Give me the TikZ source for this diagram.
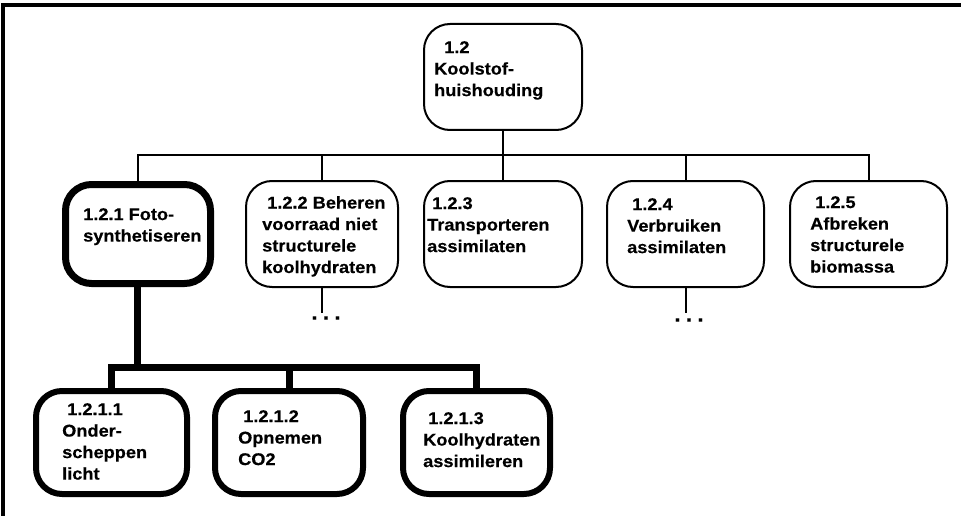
\documentclass[tikz,border=0pt]{standalone}
\usepackage{fontspec}
\setmainfont{Liberation Sans}
\newfontfamily\labelface{Liberation Sans Bold}[FakeStretch=1.07, FakeBold=0.4]
\newcommand{\boxfont}{\fontsize{17}{21.5}\labelface}
\newcommand{\ind}{\hspace*{5pt}}
\begin{document}
\begin{tikzpicture}[x=1pt,y=-1pt,
  box/.style={draw, line width=2pt, rounded corners=26pt, inner sep=0pt},
  heavybox/.style={box, line width=7pt},
  lvlthree/.style={box, line width=6pt},
  lbl/.style={anchor=north west, inner sep=0pt, align=left, font=\boxfont},
  link/.style={line width=2pt},
  heavylink/.style={line width=7pt},
  more/.style={inner sep=0pt, font=\fontsize{22}{22}\labelface}
]
\useasboundingbox (0,0) rectangle (961,516);

% page frame (top and left edges)
\draw[line width=3.5pt] (3,516) -- (3,5) -- (961,5);

% root
\node[box, minimum width=158pt, minimum height=106pt] (top) at (503,77) {};
\node[lbl] (ttop) at (434,41) {\hspace*{10pt}1.2\\Koolstof-\\huishouding};

% second level
\node[heavybox, minimum width=145pt, minimum height=99pt] (b121) at (138,234) {};
\node[box, minimum width=152pt, minimum height=106pt] (b122) at (322,234) {};
\node[box, minimum width=158pt, minimum height=106pt] (b123) at (503,234) {};
\node[box, minimum width=157pt, minimum height=106pt] (b124) at (685.5,234) {};
\node[box, minimum width=157pt, minimum height=106pt] (b125) at (868.5,234) {};

\node[lbl] (t121) at (83,208) {1.2.1 Foto-\\synthetiseren};
\node[lbl] (t122) at (262,196) {\ind1.2.2 Beheren\\voorraad niet\\structurele\\koolhydraten};
\node[lbl] (t123) at (427,197) {\ind1.2.3\\Transporteren\\assimilaten};
\node[lbl] (t124) at (627,198) {\ind1.2.4\\Verbruiken\\assimilaten};
\node[lbl] (t125) at (810,196) {\ind1.2.5\\Afbreken\\structurele\\biomassa};

% third level
\node[lvlthree, minimum width=151pt, minimum height=103pt] (b1211) at (111.5,442.5) {};
\node[lvlthree, minimum width=148pt, minimum height=103pt] (b1212) at (289,442.5) {};
\node[lvlthree, minimum width=147pt, minimum height=103pt] (b1213) at (476.5,442.5) {};

\node[lbl] (t1211) at (62,403) {\ind1.2.1.1\\Onder-\\scheppen\\licht};
\node[lbl] (t1212) at (238,410) {\ind1.2.1.2\\Opnemen\\CO2};
\node[lbl] (t1213) at (423,412) {\ind1.2.1.3\\Koolhydraten\\assimileren};

% continuation marks
\coordinate (e122) at (322,313);
\coordinate (e124) at (685.5,313);
\node[more] (m122) at (326,318) {.\hspace{5pt}.\hspace{5pt}.};
\node[more] (m124) at (689,320) {.\hspace{5pt}.\hspace{5pt}.};

% tree connectors, level one to two
\coordinate (bus1) at (503,155);
\draw[link] (top.south) -- (bus1);
\draw[link] (bus1) -| (b121.north);
\draw[link] (bus1) -| (b122.north);
\draw[link] (bus1) -- (b123.north);
\draw[link] (bus1) -| (b124.north);
\draw[link] (bus1) -| (b125.north);
\draw[link] (b122.south) -- (e122);
\draw[link] (b124.south) -- (e124);

% tree connectors, level two to three
\coordinate (bus2) at (137,367);
\draw[heavylink] (b121.south -| bus2) -- (bus2);
\draw[heavylink] (bus2) -| (b1211.north);
\draw[heavylink] (bus2) -| (b1212.north);
\draw[heavylink] (bus2) -| (b1213.north);
\end{tikzpicture}
\end{document}
